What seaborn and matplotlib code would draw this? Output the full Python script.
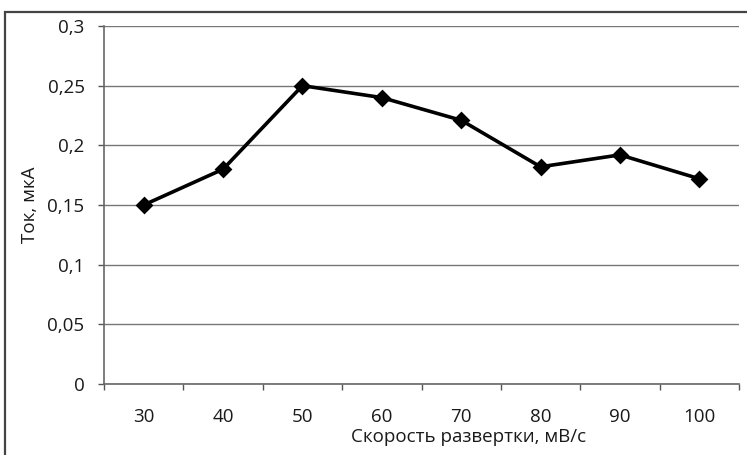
import matplotlib
matplotlib.use("Agg")
import matplotlib.pyplot as plt
import seaborn as sns
import numpy as np
from matplotlib.patches import Rectangle

speeds = ["30", "40", "50", "60", "70", "80", "90", "100"]
current = [0.150, 0.180, 0.250, 0.240, 0.221, 0.182, 0.192, 0.172]
y_ticks = [0, 0.05, 0.1, 0.15, 0.2, 0.25, 0.3]
y_tick_labels = ["0", "0,05", "0,1", "0,15", "0,2", "0,25", "0,3"]
x_label = "Скорость развертки, мВ/с"
y_label = "Ток, мкА"

sns.set_theme(style="white")
plt.rcParams['font.family'] = ['Open Sans', 'DejaVu Sans']

W, H = 747, 455
L, R, T, B = 104, 739, 26, 384
fig = plt.figure(figsize=(W/100, H/100), dpi=100)
ax = fig.add_axes([L/W, 1-B/H, (R-L)/W, (B-T)/H])

# outer chart frame
fig.patches.append(Rectangle((5/W, -0.1), 1.1, 1 - 12/H + 0.1, transform=fig.transFigure,
                             fill=False, edgecolor='#444444', linewidth=1.6))

sns.pointplot(x=speeds, y=current, color='black', markers='D', markersize=7,
              linewidth=2.6, ax=ax)

fs = 13.5
tc = '#1a1a1a'
ax.set_xlim(-0.5, len(speeds) - 0.5)
ax.set_ylim(0, 0.3)
ax.set_yticks(y_ticks)
ax.set_yticklabels(y_tick_labels, fontsize=fs, color=tc)
ax.set_xticks(range(len(speeds)))
ax.set_xticklabels(speeds, fontsize=fs, color=tc)
ax.set_xticks(np.arange(-0.5, len(speeds), 1.0), minor=True)
ax.tick_params(axis='x', which='major', length=0, pad=17)
ax.tick_params(axis='x', which='minor', length=4, width=1, color='#555555', direction='out', bottom=True)
ax.tick_params(axis='y', which='major', length=4, width=1, color='#555555', direction='out', left=True, pad=10)

ax.yaxis.grid(True, color='#777777', linewidth=1)
ax.xaxis.grid(False)
ax.set_axisbelow(True)
for s in ['top', 'right']:
    ax.spines[s].set_visible(False)
for s in ['left', 'bottom']:
    ax.spines[s].set_color('#666666')
    ax.spines[s].set_linewidth(1.2)

ax.set_xlabel(x_label, fontsize=fs, color=tc, va='center')
ax.set_ylabel(y_label, fontsize=fs, color=tc, va='center')
ax.xaxis.set_label_coords((469-L)/(R-L), -(437-B)/(B-T))
ax.yaxis.set_label_coords(-(L-30)/(R-L), 0.5)

fig.savefig("out.png", dpi=100)
